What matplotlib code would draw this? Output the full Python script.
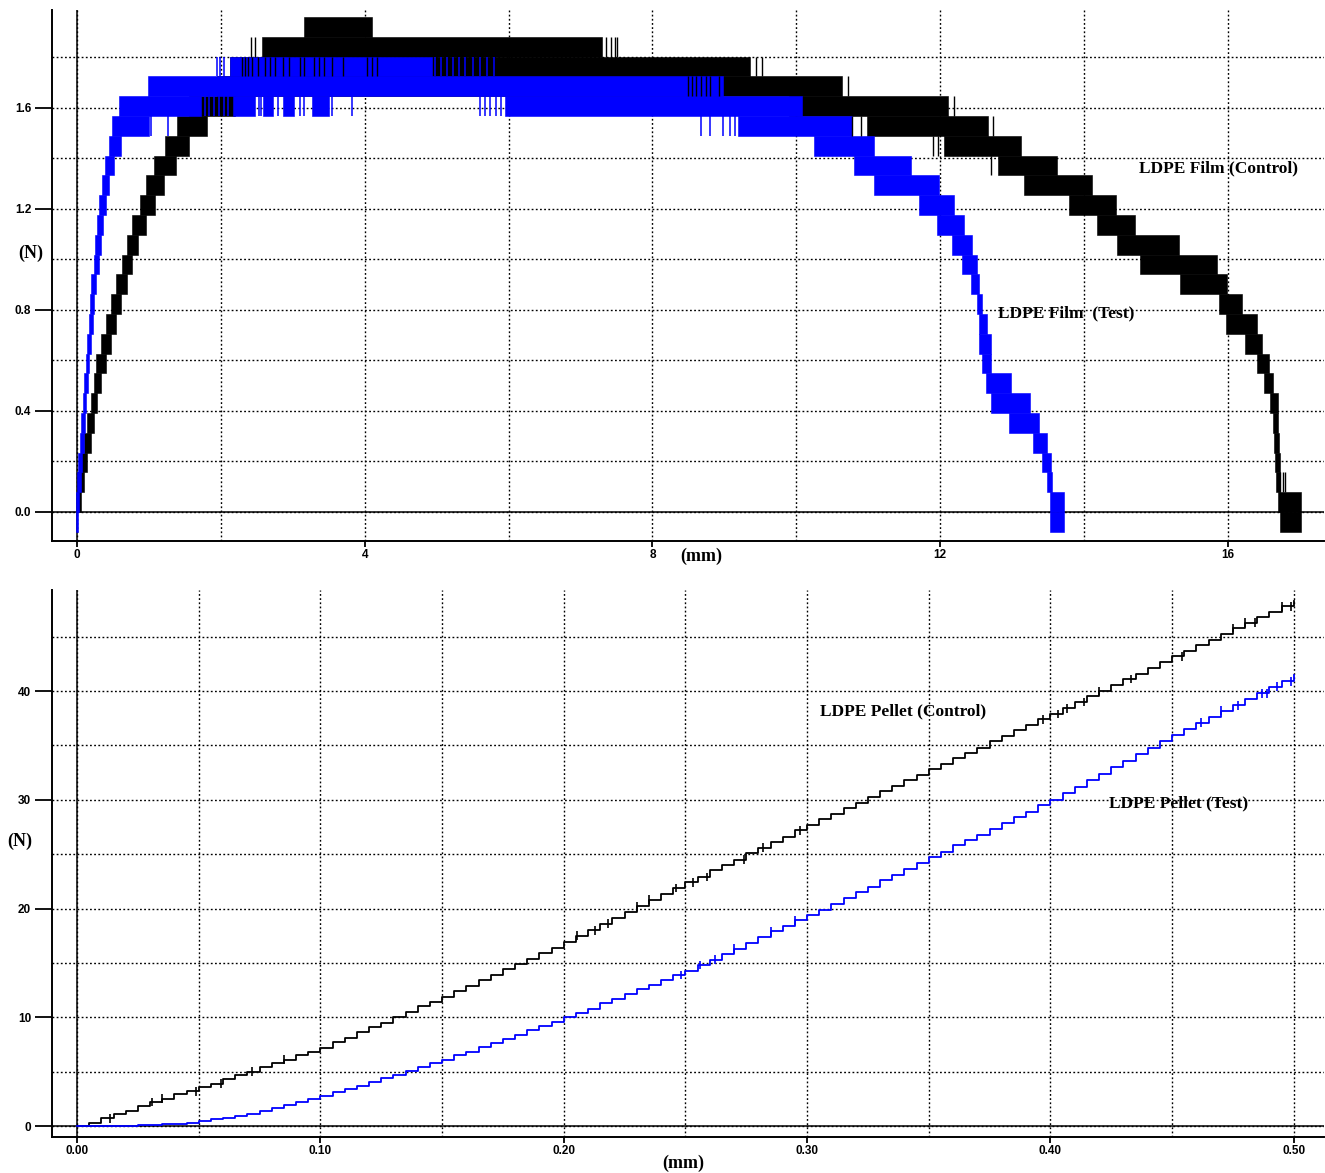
import numpy as np
import matplotlib
matplotlib.use("Agg")
import matplotlib.pyplot as plt
from matplotlib.ticker import MultipleLocator

# load cell reads in counts of 8 gf
FORCE_STEP = 0.0784  # N per count

# ---- film test: force bands (count level, start mm, end mm) ----
film_ctrl_level = [0, 1, 2, 3, 4, 5, 6, 7, 8, 9, 10, 11, 12, 13, 14, 15, 16, 17, 18, 19,
                   20, 21, 22, 23, 24,
                   20, 19, 18, 17, 16, 15, 14, 13, 12, 11, 10, 9, 8, 7, 6, 5, 4, 3, 2, 1, 0, -1]
film_ctrl_x0 = [0.00, 0.005, 0.05, 0.10, 0.135, 0.19, 0.23, 0.27, 0.33, 0.40, 0.47, 0.54, 0.62,
                0.69, 0.76, 0.876, 0.96, 1.07, 1.22, 1.39,
                1.55, 1.95, 2.13, 2.57, 3.16,
                9.90, 10.98, 12.05, 12.81, 13.16, 13.79, 14.18, 14.46, 14.78, 15.34, 15.87,
                15.97, 16.24, 16.41, 16.50, 16.59, 16.62, 16.64, 16.66, 16.67, 16.69, 16.72]
film_ctrl_x1 = [0.05, 0.10, 0.14, 0.20, 0.24, 0.28, 0.33, 0.40, 0.47, 0.54, 0.61, 0.69, 0.77,
                0.85, 0.96, 1.085, 1.21, 1.37, 1.56, 1.80,
                2.20, 10.63, 9.36, 7.30, 4.10,
                12.11, 12.67, 13.12, 13.63, 14.11, 14.44, 14.71, 15.32, 15.85, 15.99, 16.20,
                16.40, 16.48, 16.57, 16.62, 16.69, 16.70, 16.71, 16.72, 16.72, 17.01, 17.01]

film_test_level = [-1, 0, 1, 2, 3, 4, 5, 6, 7, 8, 9, 10, 11, 12, 13, 14, 15, 16, 17, 18, 19,
                   20, 21, 22, 20, 20, 20, 20, 20,
                   19, 18, 17, 16, 15, 14, 13, 12, 11, 10, 9, 8, 7, 6, 5, 4, 3, 2, 1, 0, -1]
film_test_x0 = [-0.01, -0.01, 0.00, 0.02, 0.04, 0.06, 0.08, 0.10, 0.12, 0.14, 0.16, 0.18, 0.20,
                0.23, 0.25, 0.28, 0.31, 0.35, 0.39, 0.44, 0.49,
                0.58, 0.98, 2.13, 2.17, 2.59, 2.87, 3.26, 5.95,
                9.19, 10.24, 10.80, 11.08, 11.70, 11.95, 12.17, 12.30, 12.43, 12.51, 12.54,
                12.54, 12.58, 12.64, 12.70, 12.95, 13.29, 13.42, 13.49, 13.52, 13.52]
film_test_x1 = [0.02, 0.03, 0.05, 0.07, 0.09, 0.11, 0.13, 0.15, 0.17, 0.19, 0.22, 0.24, 0.27,
                0.30, 0.33, 0.36, 0.40, 0.45, 0.51, 0.61, 1.00,
                1.73, 8.98, 4.93, 2.47, 2.73, 3.01, 3.50, 10.08,
                10.77, 11.08, 11.59, 11.98, 12.19, 12.33, 12.44, 12.51, 12.54, 12.58, 12.65,
                12.70, 12.70, 12.98, 13.25, 13.38, 13.49, 13.54, 13.56, 13.72, 13.72]

# single-sample excursions (mm, from count, to count + 1)
test_spike_x = [1.94, 1.99, 2.04, 4.98, 5.06, 5.14, 5.22, 5.31, 5.40, 5.50, 5.60, 5.70, 5.79,
                1.78, 1.84, 1.90, 1.97, 2.05, 2.10, 2.53, 2.56, 2.80, 3.10, 3.16, 3.55, 3.82,
                5.60, 5.67, 5.74, 5.82, 5.89,
                1.03, 1.26, 8.67, 8.80, 8.98, 9.08, 9.15]
test_spike_k0 = [22] * 13 + [20] * 18 + [19] * 7

ctrl_spike_x = [2.29, 2.34, 2.38, 2.43, 2.52, 2.61, 2.68, 2.75, 2.87, 2.94, 3.10, 3.15, 3.29,
                3.36, 3.43, 3.54, 3.70, 4.03, 4.10, 4.17,
                8.50, 8.55, 8.60, 8.67, 8.74, 8.80, 8.92,
                2.42, 2.47, 7.35, 7.42, 7.48, 7.51, 9.44, 9.52, 10.72, 12.19, 10.77, 10.90,
                12.74, 11.90, 11.97, 12.70, 16.72, 16.76, 16.80]
ctrl_spike_k0 = [22] * 20 + [21] * 7 + [23, 23, 23, 23, 23, 23, 22, 22, 21, 20, 19, 19,
                                       19, 18, 18, 17, 1, 1, 1]

# ---- pellet test: force (N) every 0.005 mm ----
pellet_x = np.round(np.arange(0, 101) * 0.005, 3)
pellet_ctrl = [0.0, 0.3, 0.7, 1.1, 1.4, 1.8, 2.2, 2.5, 2.9, 3.2, 3.6,
               3.9, 4.3, 4.7, 5.0, 5.4, 5.8, 6.1, 6.5, 6.8, 7.2,
               7.7, 8.1, 8.6, 9.1, 9.5, 10.0, 10.5, 11.0, 11.4, 11.9,
               12.4, 12.9, 13.4, 13.9, 14.4, 14.9, 15.4, 15.9, 16.4, 16.9,
               17.5, 18.0, 18.6, 19.1, 19.7, 20.2, 20.8, 21.3, 21.9, 22.4,
               22.9, 23.5, 24.0, 24.5, 25.1, 25.6, 26.1, 26.6, 27.2, 27.7,
               28.2, 28.7, 29.2, 29.7, 30.3, 30.8, 31.3, 31.8, 32.3, 32.8,
               33.3, 33.8, 34.3, 34.8, 35.4, 35.9, 36.4, 36.9, 37.4, 37.9,
               38.4, 39.0, 39.5, 40.0, 40.6, 41.1, 41.6, 42.1, 42.7, 43.2,
               43.7, 44.2, 44.7, 45.2, 45.8, 46.3, 46.8, 47.3, 47.8, 48.3]
pellet_test = [0.0, 0.0, 0.0, 0.0, 0.0, 0.05, 0.1, 0.15, 0.2, 0.3, 0.45,
               0.6, 0.75, 0.95, 1.15, 1.4, 1.65, 1.9, 2.2, 2.5, 2.8,
               3.1, 3.4, 3.7, 4.05, 4.4, 4.7, 5.05, 5.4, 5.75, 6.1,
               6.5, 6.85, 7.25, 7.6, 8.0, 8.4, 8.8, 9.2, 9.6, 10.0,
               10.4, 10.8, 11.3, 11.7, 12.1, 12.6, 13.0, 13.4, 13.9, 14.3,
               14.8, 15.3, 15.8, 16.3, 16.8, 17.4, 17.9, 18.4, 18.9, 19.4,
               19.9, 20.4, 21.0, 21.5, 22.0, 22.6, 23.1, 23.6, 24.2, 24.7,
               25.2, 25.8, 26.3, 26.8, 27.3, 27.9, 28.4, 28.9, 29.5, 30.0,
               30.6, 31.2, 31.8, 32.4, 33.0, 33.6, 34.2, 34.8, 35.4, 36.0,
               36.5, 37.1, 37.6, 38.2, 38.7, 39.3, 39.8, 40.4, 40.9, 41.5]

# positions (mm) of one-sample flicker on the pellet curves
pellet_ctrl_flicker = [0.0136, 0.031, 0.035, 0.049, 0.059, 0.072, 0.085,
                       0.2056, 0.213, 0.218, 0.230, 0.235, 0.246, 0.253, 0.259, 0.274,
                       0.282, 0.297, 0.397, 0.403, 0.407, 0.414, 0.420, 0.433, 0.454,
                       0.475, 0.480, 0.484, 0.495, 0.499]
pellet_test_flicker = [0.248, 0.256, 0.262, 0.270, 0.285, 0.295,
                       0.462, 0.470, 0.477, 0.487, 0.489, 0.493, 0.499]

BLUE = "#0000ff"
serif = "Liberation Serif"
sans = "Liberation Sans"


def style_axes(ax, xmaj, xmin, ymaj, ymin, fmts):
    ax.xaxis.set_major_locator(MultipleLocator(xmaj))
    ax.xaxis.set_minor_locator(MultipleLocator(xmin))
    ax.yaxis.set_major_locator(MultipleLocator(ymaj))
    ax.yaxis.set_minor_locator(MultipleLocator(ymin))
    ax.xaxis.set_major_formatter(fmts[0])
    ax.yaxis.set_major_formatter(fmts[1])
    ax.grid(which="both", color="black", linestyle=(0, (1.3, 1.7)), linewidth=1.0)
    ax.set_axisbelow(True)
    ax.axhline(0, color="black", lw=1.1, zorder=1)
    ax.axvline(0, color="black", lw=1.1, zorder=1)
    for s in ("top", "right"):
        ax.spines[s].set_visible(False)
    for s in ("left", "bottom"):
        ax.spines[s].set_linewidth(1.4)
    ax.tick_params(axis="y", which="major", length=12, width=1.3, pad=3)
    ax.tick_params(axis="x", which="major", length=4, width=1.3, pad=2)
    ax.tick_params(which="minor", length=0)
    for lab in ax.get_xticklabels() + ax.get_yticklabels():
        lab.set_fontfamily(sans)
        lab.set_fontweight("bold")
        lab.set_fontsize(8.5)


def draw_bands(ax, levels, x0, x1, color, z):
    lv = np.array(levels)
    a = np.array(x0)
    b = np.array(x1)
    ax.bar(a, FORCE_STEP, width=b - a, bottom=lv * FORCE_STEP, align="edge",
           color=color, edgecolor=color, linewidth=0.4, zorder=z)


def draw_flicker(ax, xs, curve_x, curve_y, color):
    idx = np.searchsorted(curve_x, xs, side="right") - 1
    y = np.array(curve_y)[idx]
    ax.vlines(xs, y - 0.4, y + 0.4, color=color, lw=1.2, zorder=4)


fig = plt.figure(figsize=(13.25, 11.73), dpi=100)
ax1 = fig.add_axes([0.03925, 0.5388, 0.9597, 0.4527])
ax2 = fig.add_axes([0.03925, 0.0307, 0.9597, 0.4663])

# top: film
draw_bands(ax1, film_ctrl_level, film_ctrl_x0, film_ctrl_x1, "black", 3)
draw_bands(ax1, film_test_level, film_test_x0, film_test_x1, BLUE, 4)
tk = np.array(test_spike_k0)
ax1.vlines(test_spike_x, tk * FORCE_STEP, (tk + 1) * FORCE_STEP, color=BLUE, lw=1.1, zorder=5)
ck = np.array(ctrl_spike_k0)
ax1.vlines(ctrl_spike_x, ck * FORCE_STEP, (ck + 1) * FORCE_STEP, color="black", lw=1.0, zorder=6)

ax1.set_xlim(-0.348, 17.33)
ax1.set_ylim(-0.115, 1.988)
style_axes(ax1, 4, 2, 0.4, 0.2,
           (lambda v, p: f"{v:.0f}", lambda v, p: f"{v:.1f}"))
ax1.text(14.77, 1.362, "LDPE Film (Control)", family=serif, weight="bold",
         fontsize=12.5, ha="left", va="center", zorder=8)
ax1.text(12.80, 0.788, "LDPE Film  (Test)", family=serif, weight="bold",
         fontsize=12.5, ha="left", va="center", zorder=8)

# bottom: pellet
ax2.step(pellet_x, pellet_ctrl, where="post", color="black", lw=1.3, zorder=4)
ax2.step(pellet_x, pellet_test, where="post", color=BLUE, lw=1.3, zorder=4)
draw_flicker(ax2, pellet_ctrl_flicker, pellet_x, pellet_ctrl, "black")
draw_flicker(ax2, pellet_test_flicker, pellet_x, pellet_test, BLUE)
ax2.set_xlim(-0.0103, 0.5123)
ax2.set_ylim(-1.01, 49.29)
style_axes(ax2, 0.1, 0.05, 10, 5,
           (lambda v, p: f"{v:.2f}", lambda v, p: f"{v:.0f}"))
ax2.text(0.3055, 38.16, "LDPE Pellet (Control)", family=serif, weight="bold",
         fontsize=12.5, ha="left", va="center", zorder=8)
ax2.text(0.4239, 29.7, "LDPE Pellet (Test)", family=serif, weight="bold",
         fontsize=12.5, ha="left", va="center", zorder=8)

# axis captions
fig.text(0.0234, 0.7843, "(N)", family=serif, weight="bold", fontsize=13, ha="center", va="center")
fig.text(0.529, 0.526, "(mm)", family=serif, weight="bold", fontsize=13, ha="center", va="center")
fig.text(0.0151, 0.283, "(N)", family=serif, weight="bold", fontsize=13, ha="center", va="center")
fig.text(0.516, 0.0085, "(mm)", family=serif, weight="bold", fontsize=13, ha="center", va="center")

fig.savefig("out.png", dpi=100)
